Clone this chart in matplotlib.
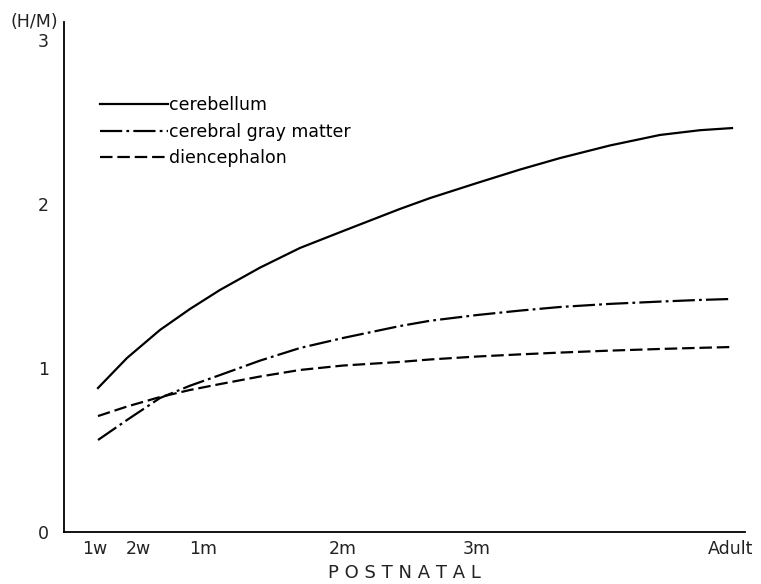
import matplotlib
matplotlib.use("Agg")
import matplotlib.pyplot as plt

# x positions on the printed (non-linear) age scale
age_ticks = [31, 74, 139, 279, 413, 667]
age_labels = ["1w", "2w", "1m", "2m", "3m", "Adult"]

x_pts = [34, 63, 96, 126, 156, 196, 236, 279, 336, 366, 413, 456, 496, 546, 596, 636, 668]
cerebellum = [0.878, 1.061, 1.232, 1.360, 1.476, 1.612, 1.732, 1.835, 1.970, 2.036, 2.128,
              2.210, 2.280, 2.357, 2.421, 2.450, 2.463]
cerebral_gray = [0.561, 0.683, 0.817, 0.892, 0.957, 1.045, 1.122, 1.183, 1.256, 1.288, 1.323,
                 1.350, 1.372, 1.391, 1.405, 1.415, 1.421]
diencephalon = [0.707, 0.765, 0.823, 0.866, 0.902, 0.948, 0.988, 1.015, 1.037, 1.052, 1.070,
                1.083, 1.094, 1.106, 1.116, 1.123, 1.128]

plt.rcParams["font.family"] = ["DejaVu Sans"]
plt.rcParams["lines.scale_dashes"] = False

fig = plt.figure(figsize=(7.61, 5.84), dpi=100)
ax = fig.add_axes([64 / 761, 52 / 584, 681 / 761, 510 / 584])

ax.plot(x_pts, cerebellum, color="black", lw=1.6, ls="-", label="cerebellum")
ax.plot(x_pts, cerebral_gray, color="black", lw=1.6, ls=(0, (16, 3, 2, 3)),
        label="cerebral gray matter")
ax.plot(x_pts, diencephalon, color="black", lw=1.6, ls=(0, (9, 3.5)),
        label="diencephalon")

ax.set_xlim(0, 681)
ax.set_ylim(0, 510 / 164)
ax.set_xticks(age_ticks)
ax.set_xticklabels(age_labels)
ax.set_yticks([0, 1, 2, 3])
ax.tick_params(length=0, labelsize=12.5, colors="#222222")
ax.tick_params(axis="y", pad=11)
ax.tick_params(axis="x", pad=6)
for s in ["top", "right"]:
    ax.spines[s].set_visible(False)
for s in ["left", "bottom"]:
    ax.spines[s].set_linewidth(1.3)

ax.set_xlabel("P O S T N A T A L", fontsize=13, color="#222222", labelpad=4)
fig.text(10 / 761, 1 - 22 / 584, "(H/M)", fontsize=12.5, color="#222222",
         va="center", ha="left")

ax.legend(loc="upper left", bbox_to_anchor=(100 / 761, 1 - 96 / 584),
          bbox_transform=fig.transFigure, frameon=False, fontsize=12.5,
          handlelength=3.9, handletextpad=0.05, labelspacing=0.5,
          borderpad=0, borderaxespad=0)

fig.savefig("out.png", dpi=100)
